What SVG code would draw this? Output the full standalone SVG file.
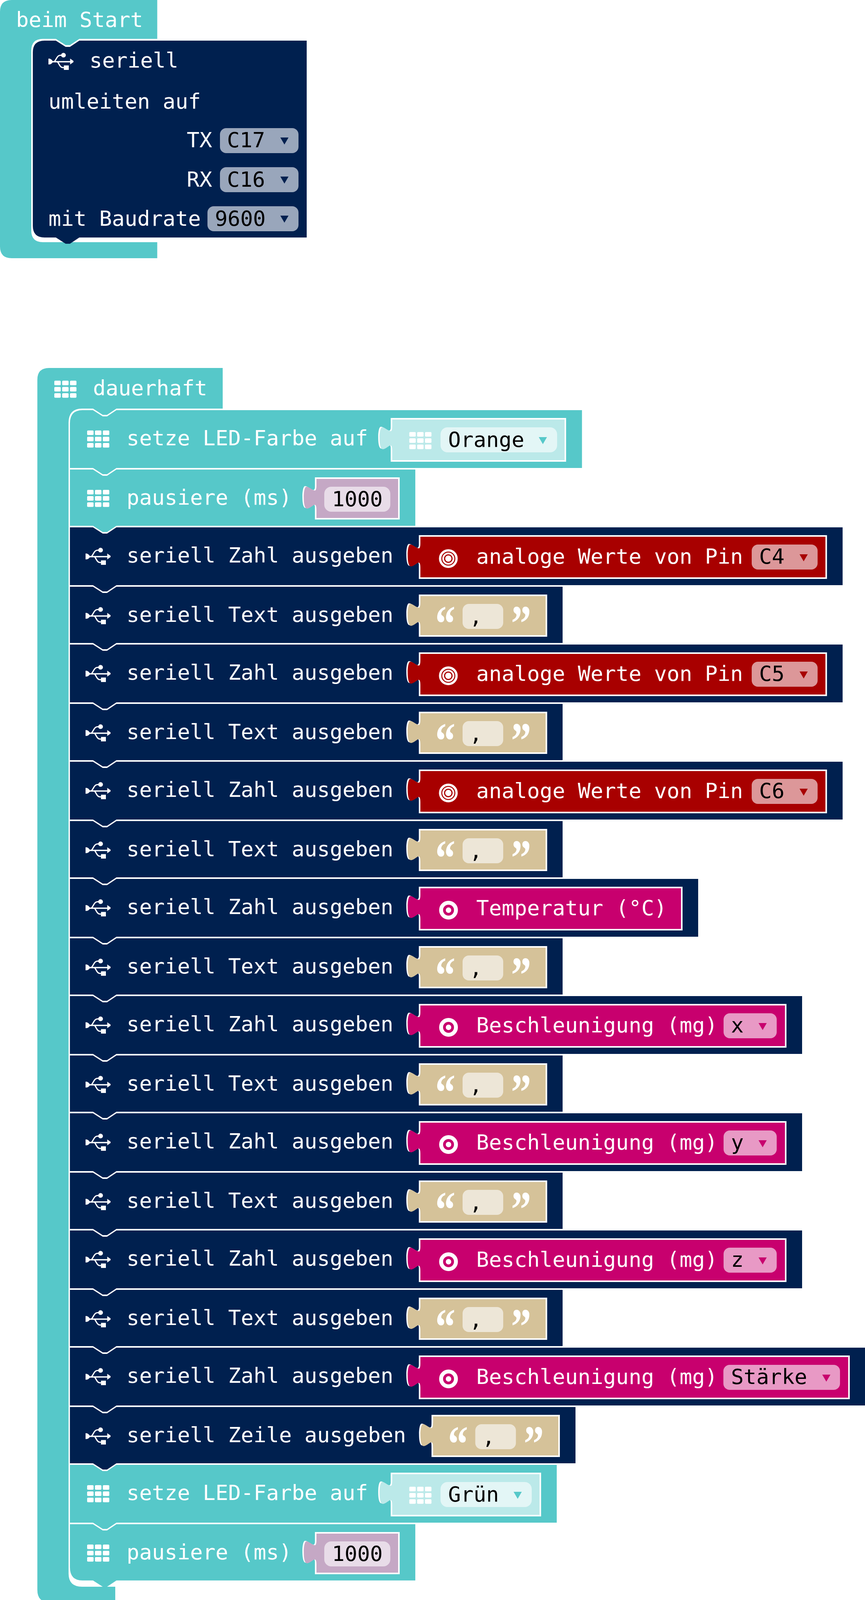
<svg xmlns="http://www.w3.org/2000/svg" xmlns:xlink="http://www.w3.org/1999/xlink" width="2214" height="4102" viewBox="0 0 2214 4102">
<style>
text{font-family:"DejaVu Sans Mono",monospace;font-size:54px;fill:#fff}
text.k{fill:#000}
text.m{text-anchor:middle}
text.q{font-family:"Liberation Serif",serif;font-weight:700;font-size:132px;fill:#fff;filter:blur(.7px)}
.w{fill:#fff}
.teal{fill:#56c8c9}.navy{fill:#00204f}.red{fill:#a80000}.pink{fill:#c8006e}.tan{fill:#d5c299}.lteal{fill:#bbe9e9}.plum{fill:#c5a8c5}
.dn{fill:#99a6bb}.dr{fill:#dc9799}.dp{fill:#e899c5}.dt{fill:#e3f6f6}.it{fill:#ede6d7}.ip{fill:#e8dce8}
.ring{fill:none;stroke:#fff}
</style>
<defs>
<path id="tab" d="M1 16H0C0 30-3 31-7 29C-14 26-21 19-26 20C-31 21-32.500 36-32.500 46C-32.500 60-31 76-24 76C-19 76-12 70-7 67C-3 65 0 66 0 80H1Z"/>
<path id="arrow" d="M-10.500-9H10.500L0 9Z"/>
<g id="usb" fill="#fff" stroke="none">
<path d="M0-8H2C6-8 9-4 11-1.500V1.500C9 4 6 7 2 7H0Z"/>
<rect x="9" y="-1.700" width="48" height="3.400"/>
<path d="M55.500-8L64-2V1L55.500 7Z"/>
<path d="M15 0C20-5 22-16 30-16.500H38M23 0C27 4 29 15 37 15H45" fill="none" stroke="#fff" stroke-width="3.200"/>
<circle cx="38.400" cy="-16.700" r="6"/>
<rect x="39.500" y="9.500" width="12.500" height="11.500"/>
</g>
<g id="grid" fill="#fff">
<rect x="0" y="0" width="16.500" height="11.700" rx="2.500"/><rect x="20.100" y="0" width="16.500" height="11.700" rx="2.500"/><rect x="40.200" y="0" width="16.500" height="11.700" rx="2.500"/>
<rect x="0" y="16" width="16.500" height="11.700" rx="2.500"/><rect x="20.100" y="16" width="16.500" height="11.700" rx="2.500"/><rect x="40.200" y="16" width="16.500" height="11.700" rx="2.500"/>
<rect x="0" y="32" width="16.500" height="11.700" rx="2.500"/><rect x="20.100" y="32" width="16.500" height="11.700" rx="2.500"/><rect x="40.200" y="32" width="16.500" height="11.700" rx="2.500"/>
</g>
<g id="pin"><circle class="ring" r="21" stroke-width="6"/><circle class="ring" r="13.200" stroke-width="4.400"/><circle class="w" r="8"/></g>
<g id="accel"><circle class="ring" r="19" stroke-width="10"/><circle class="w" r="7"/></g>
<g id="tw"><use href="#tab" class="w" transform="translate(-3.500,-1.500)"/></g>
</defs>

<g id="hat-start">
<path class="teal" d="M30 0H402.500V99.600H203L179 115.600H168L143 99.600H110Q80 99.600 80 130V590Q80 620 110 620H402.500V661H30Q0 661 0 631V30Q0 0 30 0Z"/>
<text x="41" y="69">beim Start</text>
</g>
<g id="block-serial-redirect">
<path class="navy" d="M84 134Q84 104 114 104H143L168 120H179L203 104H785V608H203L179 624H168L143 608H114Q84 608 84 578Z"/>
<use href="#usb" transform="translate(124,158)"/>
<text x="229" y="173">seriell</text>
<text x="124" y="278">umleiten auf</text>
<text x="478" y="377">TX</text>
<rect class="dn" x="563" y="328" width="201" height="64" rx="16"/><text class="k" x="581" y="377">C17</text><use href="#arrow" class="navy" transform="translate(728,361)"/>
<text x="478" y="478">RX</text>
<rect class="dn" x="563" y="428" width="201" height="64" rx="16"/><text class="k" x="581" y="478">C16</text><use href="#arrow" class="navy" transform="translate(728,461)"/>
<text x="124" y="578">mit Baudrate</text>
<rect class="dn" x="531" y="528" width="233" height="64" rx="16"/><text class="k" x="550" y="578">9600</text><use href="#arrow" class="navy" transform="translate(728,561)"/>
</g>

<g id="hat-forever">
<path class="teal" d="M125.600 942H570V1046H298L274 1062H263L238 1046H210Q175.500 1046 175.500 1082V4028Q175.500 4062 210 4062H295V4102H127Q95.600 4102 95.600 4070V972Q95.600 942 125.600 942Z"/>
<use href="#grid" transform="translate(139,974.500)"/>
<text x="238" y="1012">dauerhaft</text>
</g>

<g id="row-setze-orange">
<path class="teal" d="M179 1084Q179 1050 211 1050H238l25 16h11l24-16H1489.600v148H298l-24 16h-11l-25-16H179Z"/>
<use href="#grid" transform="translate(223,1102)"/>
<text x="324" y="1140">setze LED-Farbe auf</text>
<g class="lteal" transform="translate(1004,1074)"><rect class="w" x="-4" y="-4" width="449" height="112"/><use href="#tw"/><use href="#tab"/><rect width="441" height="104"/></g>
<use href="#grid" transform="translate(1047.600,1106)"/>
<rect class="dt" x="1127.500" y="1094" width="298.500" height="64" rx="18"/><text class="k" x="1147" y="1144">Orange</text><use href="#arrow" class="teal" transform="translate(1389.500,1128)"/>
</g>
<g id="row-pause-1">
<path class="teal" d="M179 1202H238l25 16h11l24-16H1063v144H298l-24 16h-11l-25-16H179Z"/>
<use href="#grid" transform="translate(223,1254)"/>
<text x="324" y="1292">pausiere (ms)</text>
<g class="plum" transform="translate(810,1226)"><rect class="w" x="-4" y="-4" width="217" height="108"/><use href="#tw"/><use href="#tab"/><rect width="209" height="100"/></g>
<rect class="ip" x="830" y="1246" width="169" height="64" rx="18"/><text class="k m" x="914.500" y="1296">1000</text>
</g>

<g id="row-zahl-c4">
<path class="navy" d="M179 1350H238l25 16h11l24-16H2156.700v148H298l-24 16h-11l-25-16H179Z"/>
<use href="#usb" transform="translate(219,1425)"/>
<text x="324" y="1440">seriell Zahl ausgeben</text>
<g class="red" transform="translate(1076,1374)"><rect class="w" x="-4" y="-4" width="1044.700" height="112"/><use href="#tw"/><use href="#tab"/><rect width="1036.700" height="104"/></g>
<use href="#pin" transform="translate(1147.500,1430)"/>
<text x="1219" y="1443">analoge Werte von Pin</text>
<rect class="dr" x="1924" y="1394" width="168.700" height="64" rx="16"/><text class="k" x="1943" y="1443">C4</text><use href="#arrow" class="red" transform="translate(2057,1428)"/>
</g>
<g id="row-text-1">
<path class="navy" d="M179 1502H238l25 16h11l24-16H1440v144H298l-24 16h-11l-25-16H179Z"/>
<use href="#usb" transform="translate(219,1577)"/>
<text x="324" y="1592">seriell Text ausgeben</text>
<g class="tan" transform="translate(1076,1526)"><rect class="w" x="-4" y="-4" width="328.500" height="108"/><use href="#tw"/><use href="#tab"/><rect width="320.500" height="100"/></g>
<text class="q" transform="translate(1114,1641) scale(.78,1)">“</text>
<rect class="it" x="1184" y="1546" width="104" height="64" rx="16"/><text class="k m" x="1218" y="1597">,</text>
<text class="q" transform="translate(1308,1641) scale(.78,1)">”</text>
</g>

<g id="row-zahl-c5">
<path class="navy" d="M179 1650H238l25 16h11l24-16H2156.700v148H298l-24 16h-11l-25-16H179Z"/>
<use href="#usb" transform="translate(219,1725)"/>
<text x="324" y="1740">seriell Zahl ausgeben</text>
<g class="red" transform="translate(1076,1674)"><rect class="w" x="-4" y="-4" width="1044.700" height="112"/><use href="#tw"/><use href="#tab"/><rect width="1036.700" height="104"/></g>
<use href="#pin" transform="translate(1147.500,1730)"/>
<text x="1219" y="1743">analoge Werte von Pin</text>
<rect class="dr" x="1924" y="1694" width="168.700" height="64" rx="16"/><text class="k" x="1943" y="1743">C5</text><use href="#arrow" class="red" transform="translate(2057,1728)"/>
</g>
<g id="row-text-2">
<path class="navy" d="M179 1802H238l25 16h11l24-16H1440v144H298l-24 16h-11l-25-16H179Z"/>
<use href="#usb" transform="translate(219,1877)"/>
<text x="324" y="1892">seriell Text ausgeben</text>
<g class="tan" transform="translate(1076,1826)"><rect class="w" x="-4" y="-4" width="328.500" height="108"/><use href="#tw"/><use href="#tab"/><rect width="320.500" height="100"/></g>
<text class="q" transform="translate(1114,1941) scale(.78,1)">“</text>
<rect class="it" x="1184" y="1846" width="104" height="64" rx="16"/><text class="k m" x="1218" y="1897">,</text>
<text class="q" transform="translate(1308,1941) scale(.78,1)">”</text>
</g>

<g id="row-zahl-c6">
<path class="navy" d="M179 1950H238l25 16h11l24-16H2156.700v148H298l-24 16h-11l-25-16H179Z"/>
<use href="#usb" transform="translate(219,2025)"/>
<text x="324" y="2040">seriell Zahl ausgeben</text>
<g class="red" transform="translate(1076,1974)"><rect class="w" x="-4" y="-4" width="1044.700" height="112"/><use href="#tw"/><use href="#tab"/><rect width="1036.700" height="104"/></g>
<use href="#pin" transform="translate(1147.500,2030)"/>
<text x="1219" y="2043">analoge Werte von Pin</text>
<rect class="dr" x="1924" y="1994" width="168.700" height="64" rx="16"/><text class="k" x="1943" y="2043">C6</text><use href="#arrow" class="red" transform="translate(2057,2028)"/>
</g>
<g id="row-text-3">
<path class="navy" d="M179 2102H238l25 16h11l24-16H1440v144H298l-24 16h-11l-25-16H179Z"/>
<use href="#usb" transform="translate(219,2177)"/>
<text x="324" y="2192">seriell Text ausgeben</text>
<g class="tan" transform="translate(1076,2126)"><rect class="w" x="-4" y="-4" width="328.500" height="108"/><use href="#tw"/><use href="#tab"/><rect width="320.500" height="100"/></g>
<text class="q" transform="translate(1114,2241) scale(.78,1)">“</text>
<rect class="it" x="1184" y="2146" width="104" height="64" rx="16"/><text class="k m" x="1218" y="2197">,</text>
<text class="q" transform="translate(1308,2241) scale(.78,1)">”</text>
</g>

<g id="row-zahl-temp">
<path class="navy" d="M179 2250H238l25 16h11l24-16H1787v148H298l-24 16h-11l-25-16H179Z"/>
<use href="#usb" transform="translate(219,2325)"/>
<text x="324" y="2340">seriell Zahl ausgeben</text>
<g class="pink" transform="translate(1076,2274)"><rect class="w" x="-4" y="-4" width="675" height="112"/><use href="#tw"/><use href="#tab"/><rect width="667" height="104"/></g>
<use href="#accel" transform="translate(1148,2330)"/>
<text x="1219" y="2343">Temperatur (°C)</text>
</g>
<g id="row-text-4">
<path class="navy" d="M179 2402H238l25 16h11l24-16H1440v144H298l-24 16h-11l-25-16H179Z"/>
<use href="#usb" transform="translate(219,2477)"/>
<text x="324" y="2492">seriell Text ausgeben</text>
<g class="tan" transform="translate(1076,2426)"><rect class="w" x="-4" y="-4" width="328.500" height="108"/><use href="#tw"/><use href="#tab"/><rect width="320.500" height="100"/></g>
<text class="q" transform="translate(1114,2541) scale(.78,1)">“</text>
<rect class="it" x="1184" y="2446" width="104" height="64" rx="16"/><text class="k m" x="1218" y="2497">,</text>
<text class="q" transform="translate(1308,2541) scale(.78,1)">”</text>
</g>

<g id="row-zahl-x">
<path class="navy" d="M179 2550H238l25 16h11l24-16H2053v148H298l-24 16h-11l-25-16H179Z"/>
<use href="#usb" transform="translate(219,2625)"/>
<text x="324" y="2640">seriell Zahl ausgeben</text>
<g class="pink" transform="translate(1076,2574)"><rect class="w" x="-4" y="-4" width="941" height="112"/><use href="#tw"/><use href="#tab"/><rect width="933" height="104"/></g>
<use href="#accel" transform="translate(1148,2630)"/>
<text x="1219" y="2643">Beschleunigung (mg)</text>
<rect class="dp" x="1852" y="2594" width="136" height="64" rx="16"/><text class="k" x="1871" y="2643">x</text><use href="#arrow" class="pink" transform="translate(1952,2628)"/>
</g>
<g id="row-text-5">
<path class="navy" d="M179 2702H238l25 16h11l24-16H1440v144H298l-24 16h-11l-25-16H179Z"/>
<use href="#usb" transform="translate(219,2777)"/>
<text x="324" y="2792">seriell Text ausgeben</text>
<g class="tan" transform="translate(1076,2726)"><rect class="w" x="-4" y="-4" width="328.500" height="108"/><use href="#tw"/><use href="#tab"/><rect width="320.500" height="100"/></g>
<text class="q" transform="translate(1114,2841) scale(.78,1)">“</text>
<rect class="it" x="1184" y="2746" width="104" height="64" rx="16"/><text class="k m" x="1218" y="2797">,</text>
<text class="q" transform="translate(1308,2841) scale(.78,1)">”</text>
</g>

<g id="row-zahl-y">
<path class="navy" d="M179 2850H238l25 16h11l24-16H2053v148H298l-24 16h-11l-25-16H179Z"/>
<use href="#usb" transform="translate(219,2925)"/>
<text x="324" y="2940">seriell Zahl ausgeben</text>
<g class="pink" transform="translate(1076,2874)"><rect class="w" x="-4" y="-4" width="941" height="112"/><use href="#tw"/><use href="#tab"/><rect width="933" height="104"/></g>
<use href="#accel" transform="translate(1148,2930)"/>
<text x="1219" y="2943">Beschleunigung (mg)</text>
<rect class="dp" x="1852" y="2894" width="136" height="64" rx="16"/><text class="k" x="1871" y="2943">y</text><use href="#arrow" class="pink" transform="translate(1952,2928)"/>
</g>
<g id="row-text-6">
<path class="navy" d="M179 3002H238l25 16h11l24-16H1440v144H298l-24 16h-11l-25-16H179Z"/>
<use href="#usb" transform="translate(219,3077)"/>
<text x="324" y="3092">seriell Text ausgeben</text>
<g class="tan" transform="translate(1076,3026)"><rect class="w" x="-4" y="-4" width="328.500" height="108"/><use href="#tw"/><use href="#tab"/><rect width="320.500" height="100"/></g>
<text class="q" transform="translate(1114,3141) scale(.78,1)">“</text>
<rect class="it" x="1184" y="3046" width="104" height="64" rx="16"/><text class="k m" x="1218" y="3097">,</text>
<text class="q" transform="translate(1308,3141) scale(.78,1)">”</text>
</g>

<g id="row-zahl-z">
<path class="navy" d="M179 3150H238l25 16h11l24-16H2053v148H298l-24 16h-11l-25-16H179Z"/>
<use href="#usb" transform="translate(219,3225)"/>
<text x="324" y="3240">seriell Zahl ausgeben</text>
<g class="pink" transform="translate(1076,3174)"><rect class="w" x="-4" y="-4" width="941" height="112"/><use href="#tw"/><use href="#tab"/><rect width="933" height="104"/></g>
<use href="#accel" transform="translate(1148,3230)"/>
<text x="1219" y="3243">Beschleunigung (mg)</text>
<rect class="dp" x="1852" y="3194" width="136" height="64" rx="16"/><text class="k" x="1871" y="3243">z</text><use href="#arrow" class="pink" transform="translate(1952,3228)"/>
</g>
<g id="row-text-7">
<path class="navy" d="M179 3302H238l25 16h11l24-16H1440v144H298l-24 16h-11l-25-16H179Z"/>
<use href="#usb" transform="translate(219,3377)"/>
<text x="324" y="3392">seriell Text ausgeben</text>
<g class="tan" transform="translate(1076,3326)"><rect class="w" x="-4" y="-4" width="328.500" height="108"/><use href="#tw"/><use href="#tab"/><rect width="320.500" height="100"/></g>
<text class="q" transform="translate(1114,3441) scale(.78,1)">“</text>
<rect class="it" x="1184" y="3346" width="104" height="64" rx="16"/><text class="k m" x="1218" y="3397">,</text>
<text class="q" transform="translate(1308,3441) scale(.78,1)">”</text>
</g>

<g id="row-zahl-staerke">
<path class="navy" d="M179 3450H238l25 16h11l24-16H2214v148H298l-24 16h-11l-25-16H179Z"/>
<use href="#usb" transform="translate(219,3525)"/>
<text x="324" y="3540">seriell Zahl ausgeben</text>
<g class="pink" transform="translate(1076,3474)"><rect class="w" x="-4" y="-4" width="1103" height="112"/><use href="#tw"/><use href="#tab"/><rect width="1095" height="104"/></g>
<use href="#accel" transform="translate(1148,3530)"/>
<text x="1219" y="3543">Beschleunigung (mg)</text>
<rect class="dp" x="1851.500" y="3494" width="298.500" height="64" rx="16"/><text class="k" x="1871" y="3543">Stärke</text><use href="#arrow" class="pink" transform="translate(2115,3528)"/>
</g>
<g id="row-zeile">
<path class="navy" d="M179 3602H238l25 16h11l24-16H1473v144H298l-24 16h-11l-25-16H179Z"/>
<use href="#usb" transform="translate(219,3677)"/>
<text x="324" y="3692">seriell Zeile ausgeben</text>
<g class="tan" transform="translate(1108.500,3626)"><rect class="w" x="-4" y="-4" width="328.500" height="108"/><use href="#tw"/><use href="#tab"/><rect width="320.500" height="100"/></g>
<text class="q" transform="translate(1146.500,3741) scale(.78,1)">“</text>
<rect class="it" x="1216.500" y="3646" width="104" height="64" rx="16"/><text class="k m" x="1250.500" y="3697">,</text>
<text class="q" transform="translate(1340.500,3741) scale(.78,1)">”</text>
</g>

<g id="row-setze-gruen">
<path class="teal" d="M179 3750H238l25 16h11l24-16H1425v148H298l-24 16h-11l-25-16H179Z"/>
<use href="#grid" transform="translate(223,3802)"/>
<text x="324" y="3840">setze LED-Farbe auf</text>
<g class="lteal" transform="translate(1004,3774)"><rect class="w" x="-4" y="-4" width="385" height="112"/><use href="#tw"/><use href="#tab"/><rect width="377" height="104"/></g>
<use href="#grid" transform="translate(1047.600,3806)"/>
<rect class="dt" x="1127.500" y="3794" width="233.500" height="64" rx="18"/><text class="k" x="1147" y="3844">Grün</text><use href="#arrow" class="teal" transform="translate(1325,3828)"/>
</g>
<g id="row-pause-2">
<path class="teal" d="M179 3902H238l25 16h11l24-16H1063v144H298l-24 16h-11l-25-16H211Q179 4046 179 4012Z"/>
<use href="#grid" transform="translate(223,3954)"/>
<text x="324" y="3992">pausiere (ms)</text>
<g class="plum" transform="translate(810,3926)"><rect class="w" x="-4" y="-4" width="217" height="108"/><use href="#tw"/><use href="#tab"/><rect width="209" height="100"/></g>
<rect class="ip" x="830" y="3946" width="169" height="64" rx="18"/><text class="k m" x="914.500" y="3996">1000</text>
</g>
</svg>
